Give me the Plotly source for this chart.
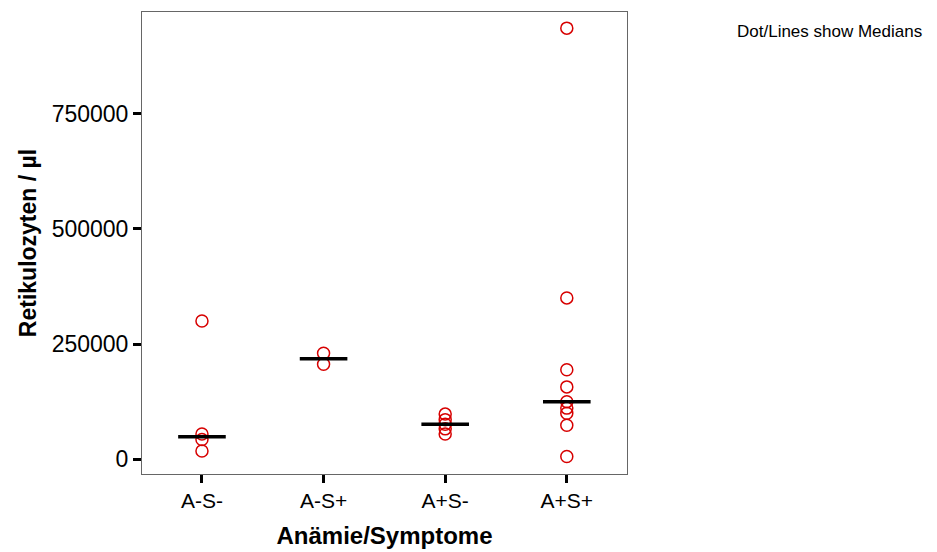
import numpy as np
import plotly.graph_objects as go

categories = ["A-S-", "A-S+", "A+S-", "A+S+"]
values_as_minus_s_minus = [300000, 55000, 43000, 18000]
values_as_minus_s_plus = [230000, 206000]
values_ap_s_minus = [98000, 86000, 76000, 66000, 55000]
values_ap_s_plus = [935000, 350000, 194000, 157000, 125000, 111000, 100000, 74000, 6000]
y_ticks = [0, 250000, 500000, 750000]

groups = [values_as_minus_s_minus, values_as_minus_s_plus, values_ap_s_minus, values_ap_s_plus]

fig = go.Figure()

xs, ys = [], []
for i, g in enumerate(groups):
    xs += [i] * len(g)
    ys += g

fig.add_trace(go.Scatter(
    x=xs, y=ys, mode="markers",
    marker=dict(symbol="circle-open", size=12, color="rgb(215,0,0)",
                line=dict(width=1.5, color="rgb(215,0,0)")),
    showlegend=False, hoverinfo="y"))

medians = [float(np.median(g)) for g in groups]
fig.add_trace(go.Scatter(
    x=list(range(len(categories))), y=medians, mode="markers",
    marker=dict(symbol="line-ew-open", size=34, color="black",
                line=dict(width=3.5, color="black")),
    showlegend=False, hoverinfo="y"))

fig.update_layout(
    width=937, height=552,
    margin=dict(l=142, r=310, t=12, b=78),
    paper_bgcolor="white", plot_bgcolor="white",
    font=dict(family="Liberation Sans, Arial, sans-serif", color="black"),
    xaxis=dict(
        range=[-0.493, 3.495], automargin=False,
        tickmode="array", tickvals=list(range(len(categories))), ticktext=categories,
        ticks="outside", ticklen=8, tickwidth=3, tickcolor="black",
        showline=True, linecolor="#666666", linewidth=1, mirror=True,
        showgrid=False, zeroline=False,
        tickfont=dict(size=21),
        title=dict(text="<b>Anämie/Symptome</b>", font=dict(size=24), standoff=15),
    ),
    yaxis=dict(
        range=[-31900, 970000], automargin=False,
        tickmode="array", tickvals=y_ticks, ticktext=[str(v) for v in y_ticks],
        ticks="outside", ticklen=8, tickwidth=3, tickcolor="black",
        showline=True, linecolor="#666666", linewidth=1, mirror=True,
        showgrid=False, zeroline=False,
        tickfont=dict(size=23),
        title=dict(text="<b>Retikulozyten / µl</b>", font=dict(size=23), standoff=8),
    ),
    annotations=[dict(
        text="Dot/Lines show Medians", xref="paper", yref="paper",
        x=1.2227, y=0.957, xanchor="left", yanchor="middle",
        showarrow=False, font=dict(size=17, color="black"))],
)

fig.write_html("out.html")
